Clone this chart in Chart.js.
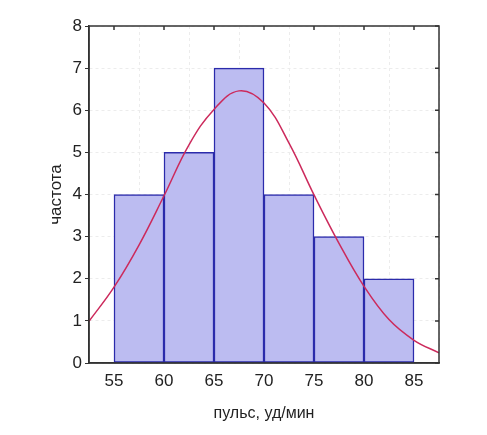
<!DOCTYPE html>
<html lang="ru">
<head>
  <meta charset="UTF-8" />
  <title>Гистограмма пульса</title>
  <script src="https://cdn.jsdelivr.net/npm/chart.js"></script>
  <style>
    html, body { margin: 0; padding: 0; background: #fff; }
    canvas { display: block; }
  </style>
</head>
<body>
  <canvas id="histChart" width="487" height="435"></canvas>

  <script>
    // интервалы и частоты
    const binCenters = [57.5, 62.5, 67.5, 72.5, 77.5, 82.5];
    const counts = [4, 5, 7, 4, 3, 2];

    // нормальная кривая
    const curveX = [52.5, 55, 57.5, 60, 62.5, 65, 67.5, 70, 72.5, 75, 77.5, 80, 82.5, 85, 87.5];
    const curveY = [0.99, 1.8, 2.8, 3.97, 5.18, 6.02, 6.46, 6.17, 5.22, 3.99, 2.84, 1.82, 1.03, 0.54, 0.24];

    const xTicks = [55, 60, 65, 70, 75, 80, 85];
    const yTicks = [0, 1, 2, 3, 4, 5, 6, 7, 8];
    const xMin = 52.5, xMax = 87.5;

    const axisColor = '#333';

    // рамка и внутренние засечки сверху и справа
    const framePlugin = {
      id: 'frame',
      afterDraw(chart) {
        const { ctx, chartArea: a, scales } = chart;
        ctx.save();
        ctx.strokeStyle = axisColor;
        ctx.lineWidth = 1.5;
        ctx.strokeRect(a.left, a.top, a.right - a.left, a.bottom - a.top);
        ctx.beginPath();
        xTicks.forEach(v => {
          const px = scales.x.getPixelForValue(v);
          ctx.moveTo(px, a.top);
          ctx.lineTo(px, a.top + 4);
        });
        yTicks.forEach(v => {
          const py = scales.y.getPixelForValue(v);
          ctx.moveTo(a.right, py);
          ctx.lineTo(a.right - 4, py);
        });
        ctx.stroke();
        ctx.restore();
      }
    };

    const ctx = document.getElementById('histChart').getContext('2d');
    new Chart(ctx, {
      type: 'bar',
      data: {
        datasets: [
          {
            type: 'line',
            data: curveX.map((x, i) => ({ x: x, y: curveY[i] })),
            borderColor: '#cc2a5c',
            borderWidth: 1.5,
            pointRadius: 0,
            tension: 0.4,
            fill: false,
            order: 0
          },
          {
            type: 'bar',
            data: binCenters.map((x, i) => ({ x: x, y: counts[i] })),
            backgroundColor: '#bcbcf1',
            borderColor: '#2b2bab',
            borderWidth: 1.5,
            borderSkipped: false,
            barPercentage: 1,
            categoryPercentage: 1,
            order: 1
          }
        ]
      },
      options: {
        responsive: false,
        animation: false,
        devicePixelRatio: 1,
        layout: { padding: { left: 45, right: 48, top: 26, bottom: 0 } },
        plugins: {
          legend: { display: false },
          tooltip: { enabled: false }
        },
        scales: {
          x: {
            type: 'linear',
            min: xMin,
            max: xMax,
            offset: false,
            afterBuildTicks: s => { s.ticks = xTicks.map(v => ({ value: v })); },
            afterFit: s => { s.height = 72; },
            grid: { color: '#ececec', drawTicks: false },
            border: { color: axisColor, width: 1.5, dash: [3, 3] },
            ticks: {
              padding: 8,
              color: '#222',
              font: { family: 'Liberation Sans', size: 17 }
            },
            title: {
              display: true,
              text: 'пульс, уд/мин',
              color: '#222',
              padding: { top: 0, bottom: 12 },
              font: { family: 'Liberation Sans', size: 16 }
            }
          },
          y: {
            min: 0,
            max: 8,
            afterBuildTicks: s => { s.ticks = yTicks.map(v => ({ value: v })); },
            afterFit: s => { s.width = 44; },
            grid: { color: '#ececec', tickColor: axisColor, tickLength: 4 },
            border: { color: axisColor, width: 1.5, dash: [3, 3] },
            ticks: {
              padding: 3,
              color: '#222',
              font: { family: 'Liberation Sans', size: 17 }
            },
            title: {
              display: true,
              text: 'частота',
              color: '#222',
              padding: { top: 1, bottom: 0 },
              font: { family: 'Liberation Sans', size: 17 }
            }
          }
        }
      },
      plugins: [framePlugin]
    });
  </script>
</body>
</html>
